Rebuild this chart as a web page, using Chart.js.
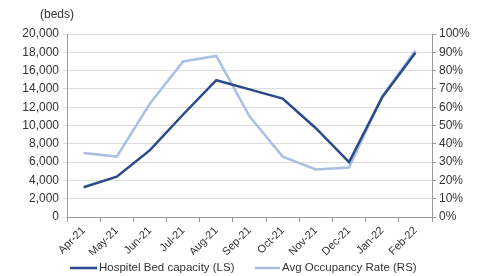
<!DOCTYPE html>
<html>
<head>
<meta charset="utf-8">
<script src="https://cdn.jsdelivr.net/npm/chart.js@4.4.0/dist/chart.umd.min.js"></script>
<style>
    html, body { margin: 0; padding: 0; background: #fff; }
    #wrap { width: 478px; height: 276px; }
</style>
</head>
<body>
<div id="wrap"><canvas id="chart"></canvas></div>
<script>
const months = ['Apr-21', 'May-21', 'Jun-21', 'Jul-21', 'Aug-21', 'Sep-21', 'Oct-21', 'Nov-21', 'Dec-21', 'Jan-22', 'Feb-22'];
const bedCapacity = [3250, 4400, 7300, 11200, 14950, 13950, 12950, 9700, 6000, 13100, 17950];
const occupancyRate = [35, 33, 62, 85, 88, 55, 33, 26, 27, 66, 91];

const darkBlue = '#2b4a8b';
const lightBlue = '#aabfe3';
const fontFamily = 'Liberation Sans, Arial, sans-serif';
const tickFont = { family: fontFamily, size: 12 };

// "(beds)" unit note + legend drawn by hand so it sits where the original has it
const extras = {
    id: 'extras',
    afterDraw(chart) {
        const ctx = chart.ctx;
        ctx.save();
        ctx.font = '12px ' + fontFamily;
        ctx.fillStyle = '#333';
        ctx.textBaseline = 'middle';
        ctx.textAlign = 'center';
        ctx.fillText('(beds)', 57, 15);

        ctx.font = '11.5px ' + fontFamily;
        ctx.textAlign = 'left';
        const y = 268;
        const items = [[70, 27], [255, 25]];
        chart.data.datasets.forEach((ds, i) => {
            const [x, w] = items[i];
            ctx.strokeStyle = ds.borderColor;
            ctx.lineWidth = 2.5;
            ctx.beginPath();
            ctx.moveTo(x, y);
            ctx.lineTo(x + w, y);
            ctx.stroke();
            ctx.fillText(ds.label, x + w + 2, y);
        });
        ctx.restore();
    }
};

new Chart(document.getElementById('chart'), {
    type: 'line',
    data: {
        labels: months,
        datasets: [
            {
                label: 'Hospitel Bed capacity (LS)',
                data: bedCapacity,
                borderColor: darkBlue,
                backgroundColor: darkBlue,
                borderWidth: 2.5,
                pointRadius: 0,
                tension: 0,
                yAxisID: 'y'
            },
            {
                label: 'Avg Occupancy Rate (RS)',
                data: occupancyRate,
                borderColor: lightBlue,
                backgroundColor: lightBlue,
                borderWidth: 2.5,
                pointRadius: 0,
                tension: 0,
                yAxisID: 'y1'
            }
        ]
    },
    options: {
        responsive: true,
        maintainAspectRatio: false,
        animation: false,
        layout: { padding: { top: 34, right: 0, left: 0, bottom: 21 } },
        plugins: {
            legend: { display: false },
            tooltip: { enabled: false }
        },
        scales: {
            x: {
                offset: true,
                afterFit: s => { s.height = 38; },
                grid: { drawOnChartArea: false, drawTicks: true, tickLength: 5, offset: true, color: '#999' },
                border: { color: '#999' },
                ticks: { color: '#333', font: { family: fontFamily, size: 11 }, minRotation: 45, maxRotation: 45, padding: 2, autoSkip: false }
            },
            y: {
                position: 'left',
                min: 0,
                max: 20000,
                afterFit: s => { s.width = 67; },
                grid: { color: '#ddd', tickLength: 4 },
                border: { color: '#999' },
                ticks: {
                    stepSize: 2000,
                    autoSkip: false,
                    color: '#333',
                    font: tickFont,
                    padding: 4,
                    callback: v => v.toLocaleString('en-US')
                }
            },
            y1: {
                position: 'right',
                min: 0,
                max: 100,
                afterFit: s => { s.width = 46; },
                grid: { drawOnChartArea: false, tickLength: 4, color: '#999' },
                border: { color: '#999' },
                ticks: {
                    stepSize: 10,
                    autoSkip: false,
                    color: '#333',
                    font: tickFont,
                    padding: 3,
                    callback: v => v + '%'
                }
            }
        }
    },
    plugins: [extras]
});
</script>
</body>
</html>
